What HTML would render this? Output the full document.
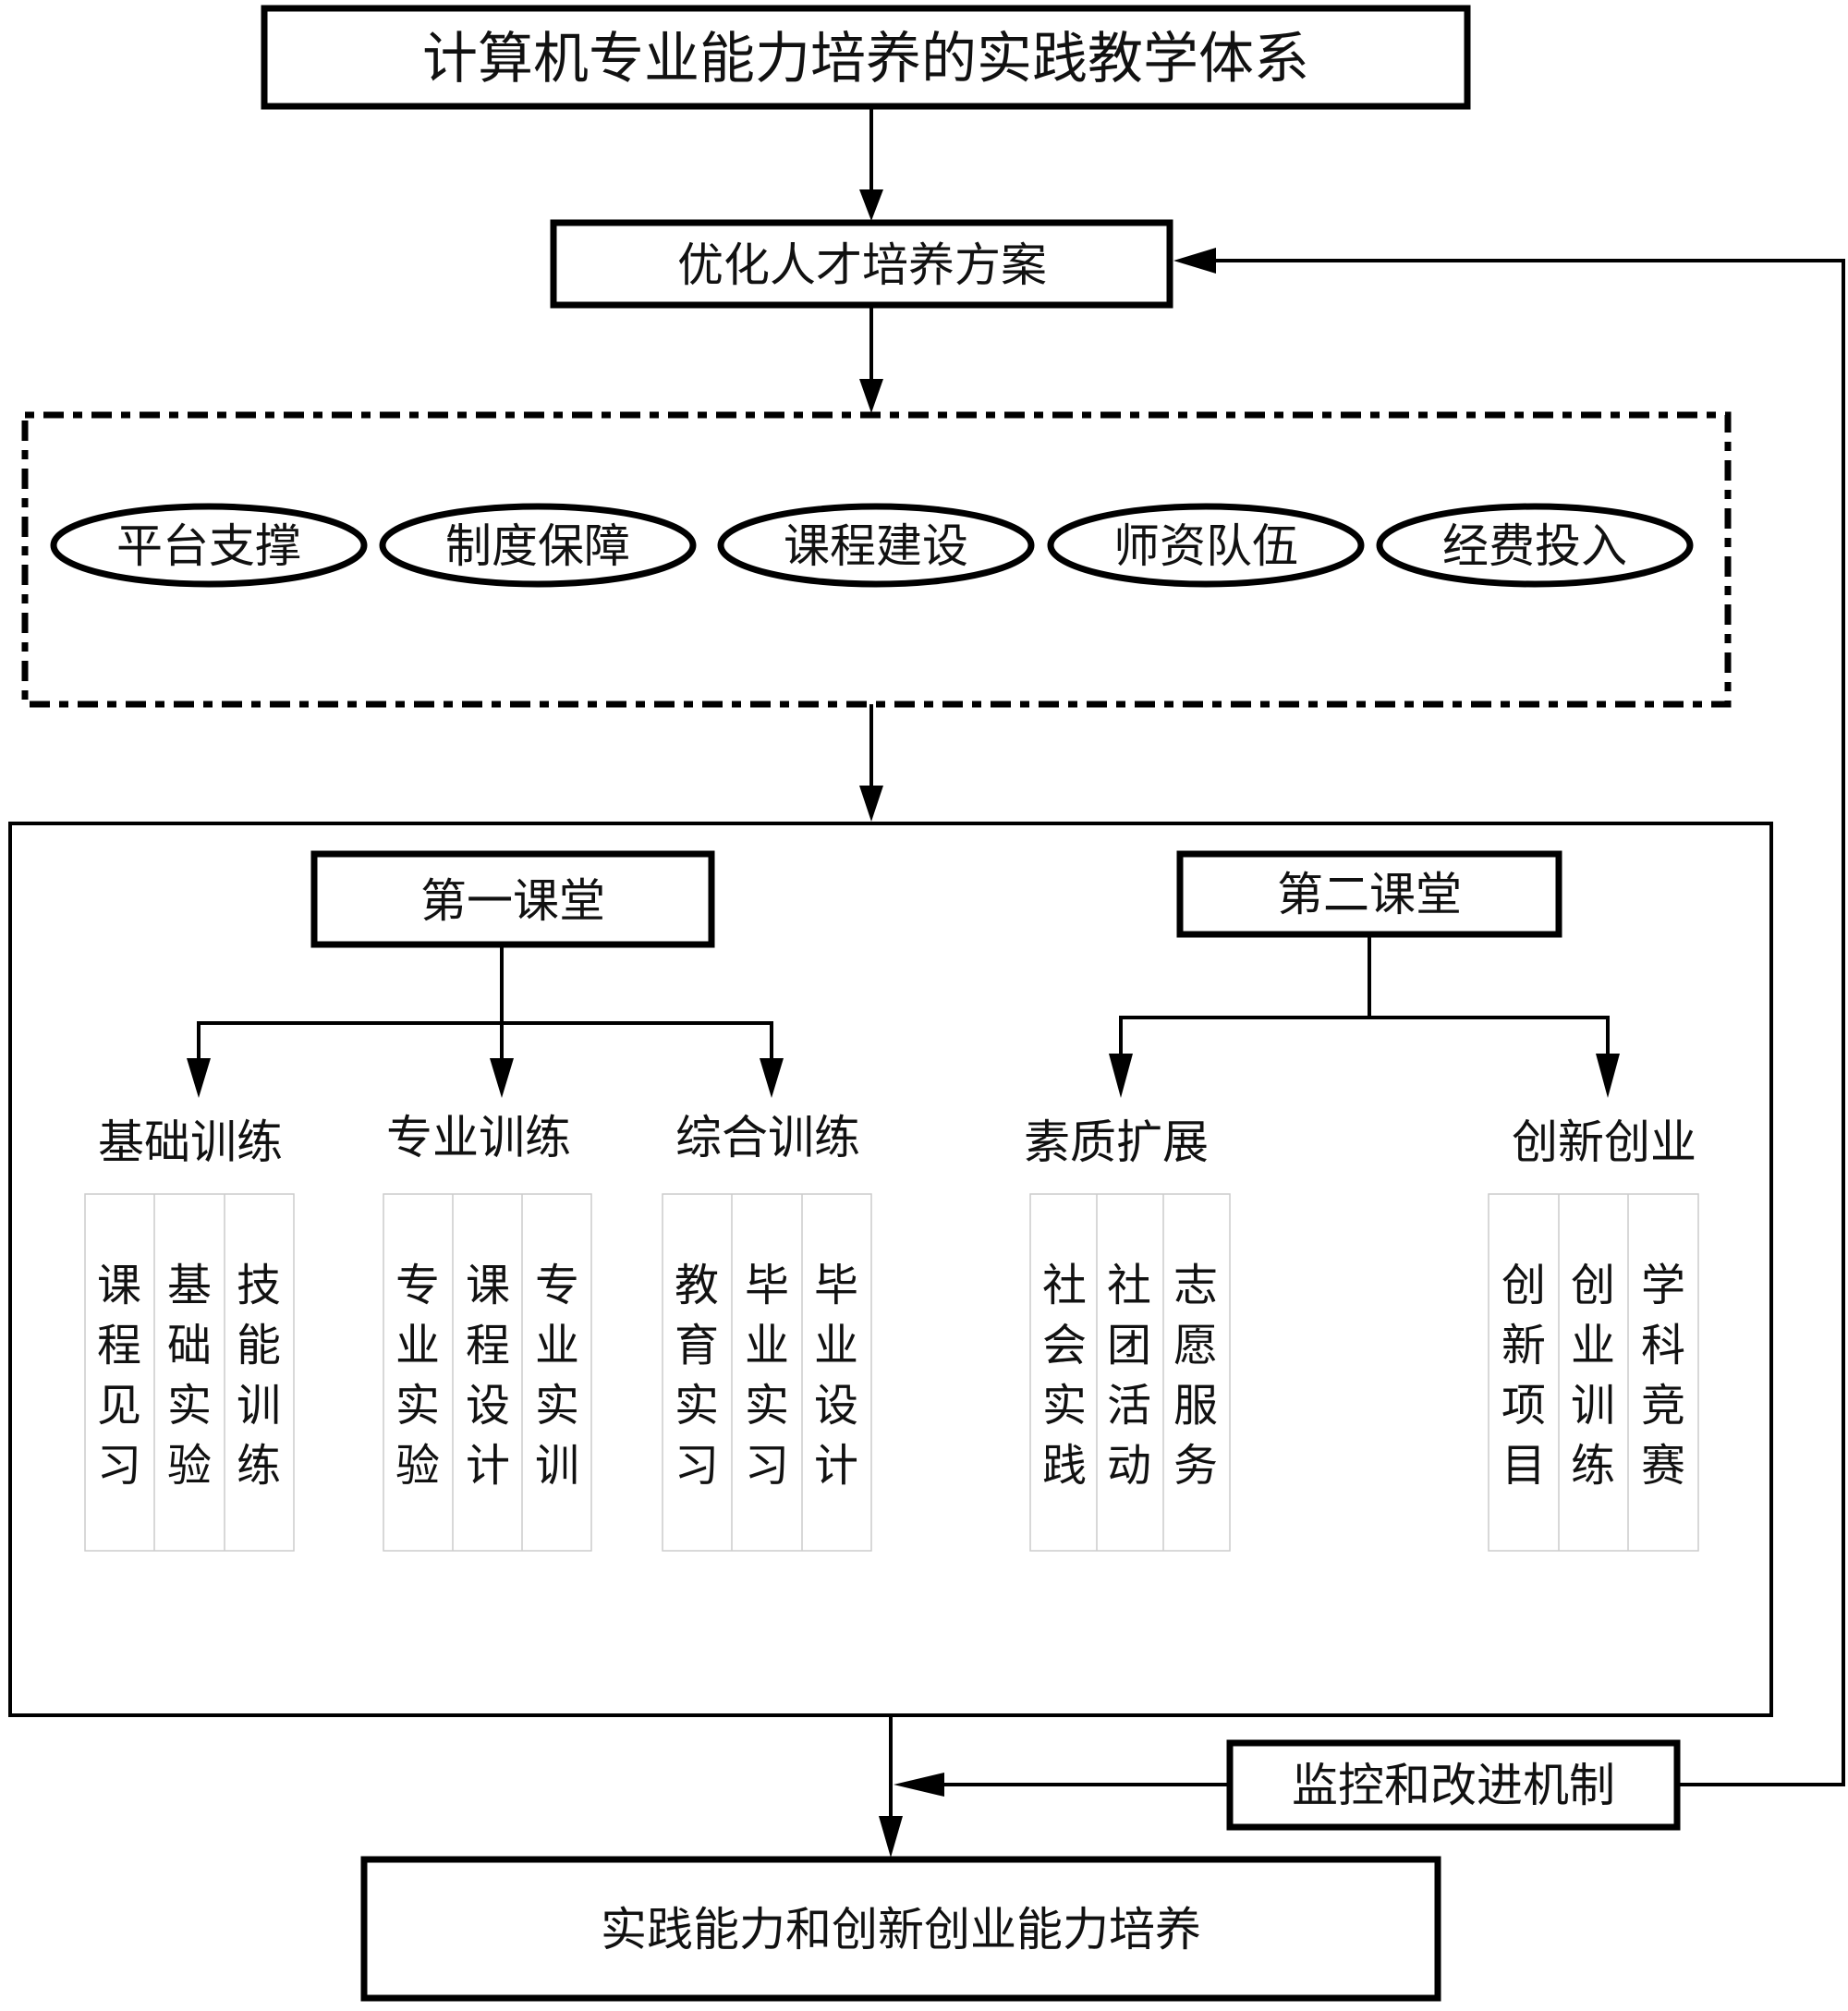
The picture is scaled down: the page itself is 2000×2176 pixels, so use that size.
<!DOCTYPE html>
<html><head><meta charset="utf-8"><style>
html,body{margin:0;padding:0;background:#fff}
svg text{font-family:"Liberation Sans","Noto Sans CJK SC",sans-serif;fill:#111}
</style></head><body>
<svg width="2000" height="2171" viewBox="0 0 2000 2171" xmlns="http://www.w3.org/2000/svg">
<defs>
<marker id="ah" markerWidth="10" markerHeight="10" refX="9" refY="5" orient="auto" markerUnits="userSpaceOnUse" viewBox="0 0 10 10">
</marker>
</defs>
<g fill="none" stroke="#000">
<rect x="286" y="9" width="1302" height="106" stroke-width="7"/>
<rect x="599" y="241" width="667" height="89" stroke-width="7"/>
<rect x="27" y="449" width="1843" height="313" stroke-width="7" stroke-dasharray="10,10,22,10"/>
<ellipse cx="226" cy="590" rx="168" ry="42" stroke-width="7"/>
<ellipse cx="582" cy="590" rx="168" ry="42" stroke-width="7"/>
<ellipse cx="948" cy="590" rx="168" ry="42" stroke-width="7"/>
<ellipse cx="1305" cy="590" rx="168" ry="42" stroke-width="7"/>
<ellipse cx="1661" cy="590" rx="168" ry="42" stroke-width="7"/>
<rect x="11" y="891" width="1906" height="965" stroke-width="4"/>
<rect x="340" y="924" width="430" height="98" stroke-width="7"/>
<rect x="1277" y="924" width="410" height="87" stroke-width="7"/>
<rect x="1331" y="1886" width="484" height="91" stroke-width="7"/>
<rect x="394" y="2012" width="1162" height="150" stroke-width="7"/>
<g stroke-width="4">
<line x1="943" y1="115" x2="943" y2="205"/>
<line x1="943" y1="330" x2="943" y2="410"/>
<line x1="943" y1="762" x2="943" y2="850"/>
<line x1="543" y1="1022" x2="543" y2="1107"/>
<polyline points="215,1150 215,1107 835,1107 835,1150"/>
<line x1="543" y1="1107" x2="543" y2="1150"/>
<line x1="1482" y1="1011" x2="1482" y2="1101"/>
<polyline points="1213,1145 1213,1101 1740,1101 1740,1145"/>
<line x1="964" y1="1856" x2="964" y2="1965"/>
<line x1="1331" y1="1931" x2="1000" y2="1931"/>
<polyline points="1815,1931 1995,1931 1995,282 1305,282"/>
</g>
<g stroke="#ccc" stroke-width="1.5">
<rect x="92" y="1292" width="226" height="386"/><line x1="167" y1="1292" x2="167" y2="1678"/><line x1="243" y1="1292" x2="243" y2="1678"/>
<rect x="415" y="1292" width="225" height="386"/><line x1="490" y1="1292" x2="490" y2="1678"/><line x1="565" y1="1292" x2="565" y2="1678"/>
<rect x="717" y="1292" width="226" height="386"/><line x1="792" y1="1292" x2="792" y2="1678"/><line x1="868" y1="1292" x2="868" y2="1678"/>
<rect x="1115" y="1292" width="216" height="386"/><line x1="1187" y1="1292" x2="1187" y2="1678"/><line x1="1259" y1="1292" x2="1259" y2="1678"/>
<rect x="1611" y="1292" width="227" height="386"/><line x1="1687" y1="1292" x2="1687" y2="1678"/><line x1="1762" y1="1292" x2="1762" y2="1678"/>
</g>
</g>
<g fill="#000">
<polygon points="930,205 956,205 943,239"/>
<polygon points="930,410 956,410 943,447"/>
<polygon points="930,850 956,850 943,889"/>
<polygon points="202,1145 228,1145 215,1188"/>
<polygon points="530,1145 556,1145 543,1188"/>
<polygon points="822,1145 848,1145 835,1188"/>
<polygon points="1200,1140 1226,1140 1213,1188"/>
<polygon points="1727,1140 1753,1140 1740,1188"/>
<polygon points="951,1965 977,1965 964,2010"/>
<polygon points="1022,1918 1022,1944 967,1931"/>
<polygon points="1316,268 1316,296 1270,282"/>
</g>
<g text-anchor="middle" font-size="50">
<text x="937" y="84" font-size="60">计算机专业能力培养的实践教学体系</text>
<text x="933" y="304">优化人才培养方案</text>
<text x="226" y="608">平台支撑</text>
<text x="582" y="608">制度保障</text>
<text x="948" y="608">课程建设</text>
<text x="1305" y="608">师资队伍</text>
<text x="1661" y="608">经费投入</text>
<text x="555" y="992">第一课堂</text>
<text x="1482" y="985">第二课堂</text>
<text x="206" y="1253">基础训练</text>
<text x="518" y="1248">专业训练</text>
<text x="831" y="1248">综合训练</text>
<text x="1208" y="1253">素质扩展</text>
<text x="1736" y="1253">创新创业</text>
<text x="1573" y="1949">监控和改进机制</text>
<text x="975" y="2105">实践能力和创新创业能力培养</text>
</g>
<g font-size="48" text-anchor="middle">
<text x="129" y="1407">课</text><text x="129" y="1472">程</text><text x="129" y="1537">见</text><text x="129" y="1602">习</text>
<text x="205" y="1407">基</text><text x="205" y="1472">础</text><text x="205" y="1537">实</text><text x="205" y="1602">验</text>
<text x="280" y="1407">技</text><text x="280" y="1472">能</text><text x="280" y="1537">训</text><text x="280" y="1602">练</text>
<text x="452" y="1407">专</text><text x="452" y="1472">业</text><text x="452" y="1537">实</text><text x="452" y="1602">验</text>
<text x="528" y="1407">课</text><text x="528" y="1472">程</text><text x="528" y="1537">设</text><text x="528" y="1602">计</text>
<text x="603" y="1407">专</text><text x="603" y="1472">业</text><text x="603" y="1537">实</text><text x="603" y="1602">训</text>
<text x="754" y="1407">教</text><text x="754" y="1472">育</text><text x="754" y="1537">实</text><text x="754" y="1602">习</text>
<text x="830" y="1407">毕</text><text x="830" y="1472">业</text><text x="830" y="1537">实</text><text x="830" y="1602">习</text>
<text x="905" y="1407">毕</text><text x="905" y="1472">业</text><text x="905" y="1537">设</text><text x="905" y="1602">计</text>
<text x="1152" y="1407">社</text><text x="1152" y="1472">会</text><text x="1152" y="1537">实</text><text x="1152" y="1602">践</text>
<text x="1222" y="1407">社</text><text x="1222" y="1472">团</text><text x="1222" y="1537">活</text><text x="1222" y="1602">动</text>
<text x="1294" y="1407">志</text><text x="1294" y="1472">愿</text><text x="1294" y="1537">服</text><text x="1294" y="1602">务</text>
<text x="1649" y="1407">创</text><text x="1649" y="1472">新</text><text x="1649" y="1537">项</text><text x="1649" y="1602">目</text>
<text x="1724" y="1407">创</text><text x="1724" y="1472">业</text><text x="1724" y="1537">训</text><text x="1724" y="1602">练</text>
<text x="1800" y="1407">学</text><text x="1800" y="1472">科</text><text x="1800" y="1537">竞</text><text x="1800" y="1602">赛</text>
</g>
</svg>
</body></html>
